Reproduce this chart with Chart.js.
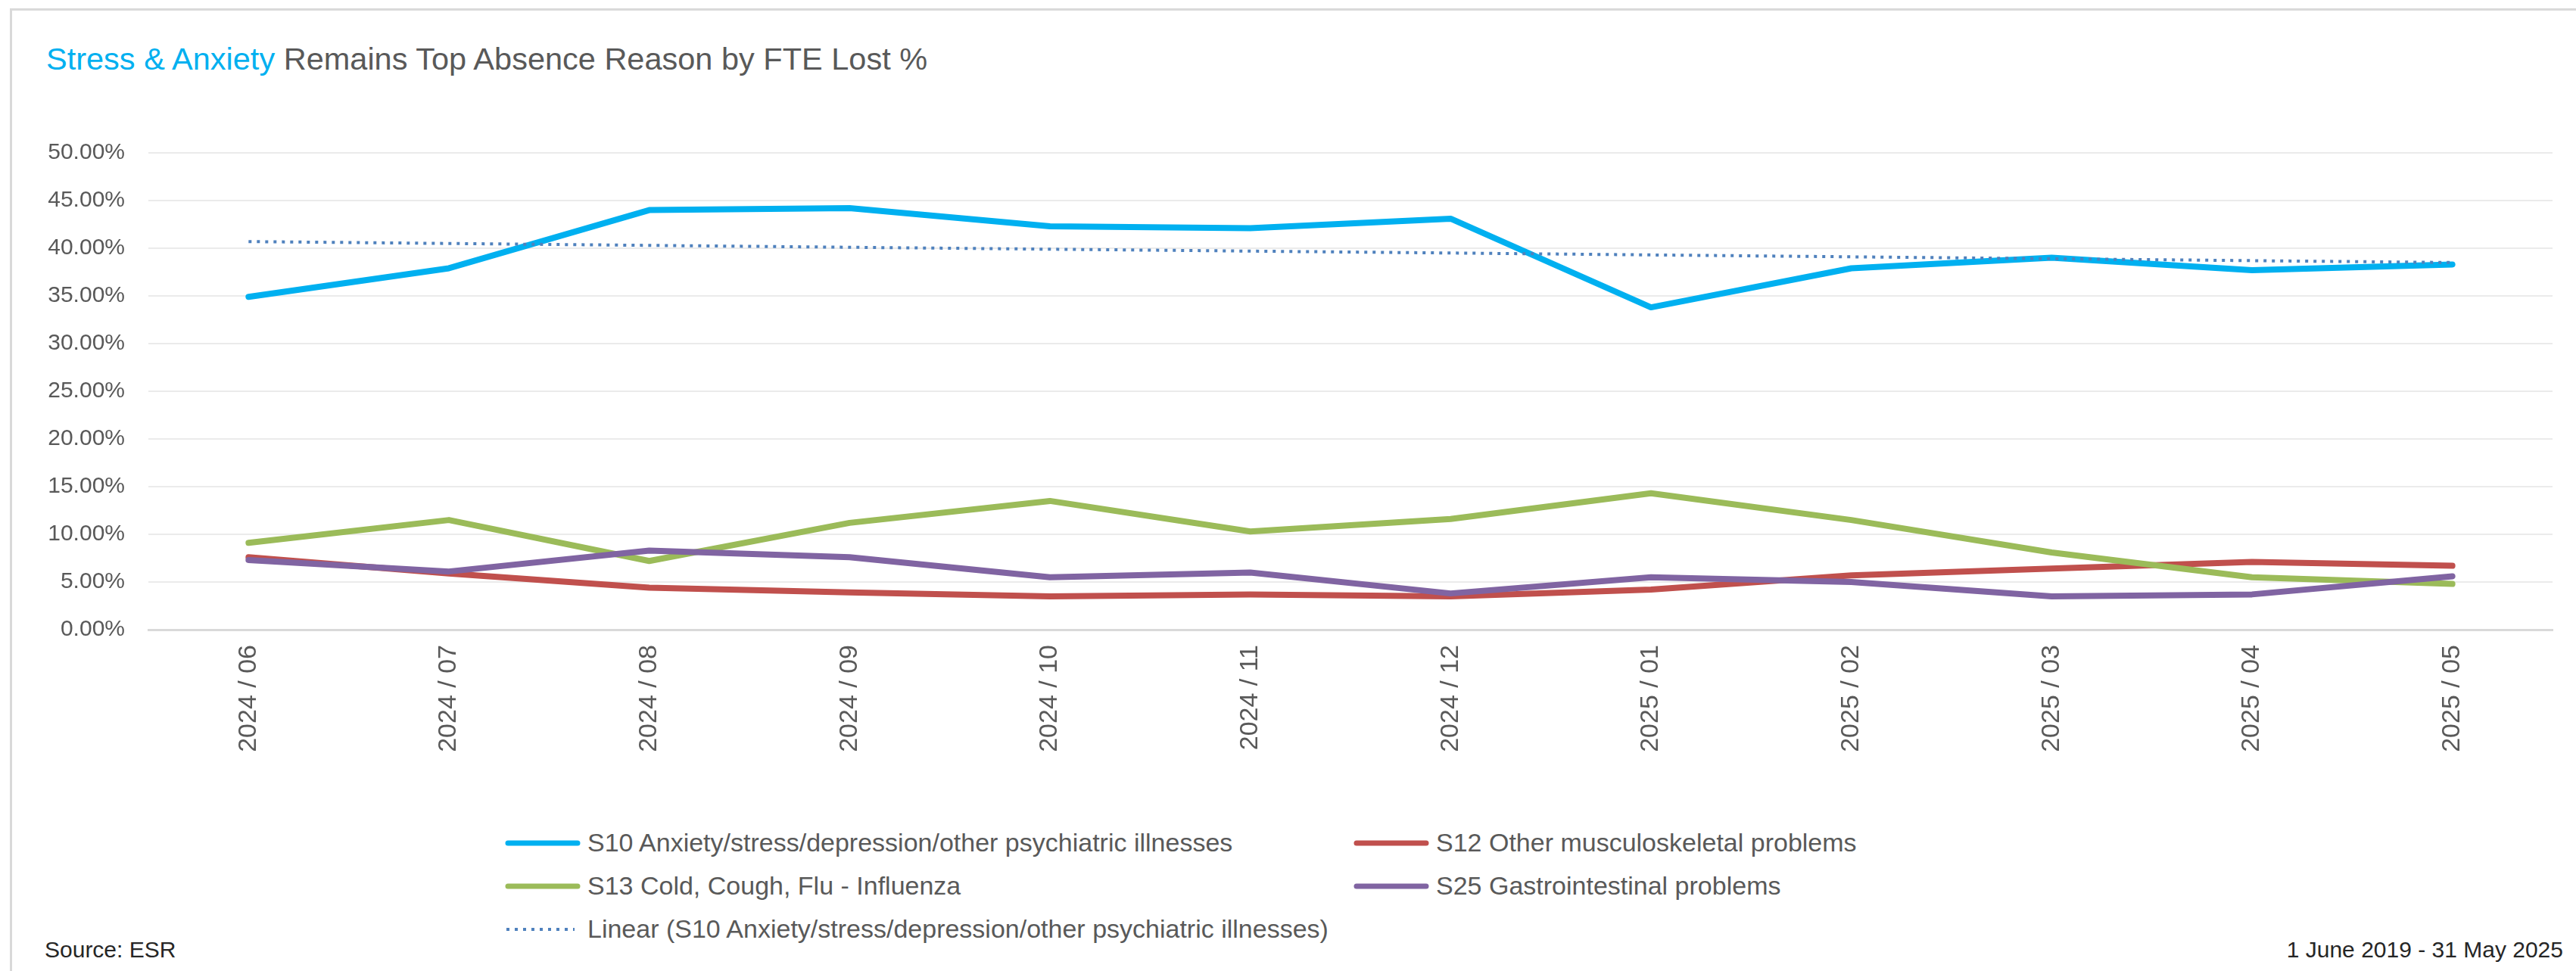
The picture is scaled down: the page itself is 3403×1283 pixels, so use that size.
<!DOCTYPE html>
<html>
<head>
<meta charset="utf-8">
<script src="https://cdn.jsdelivr.net/npm/chart.js@4.4.0/dist/chart.umd.min.js"></script>
<style>
html, body { margin: 0; padding: 0; background: #fff; }
body { width: 3403px; height: 1283px; position: relative; overflow: hidden; font-family: "Liberation Sans", Arial, sans-serif; }
#frame { position: absolute; left: 13px; top: 11px; right: -10px; bottom: -10px; border-left: 3px solid #d9d9d9; border-top: 3px solid #d9d9d9; }
#title { position: absolute; left: 61px; top: 57px; font-size: 41.5px; line-height: 41.5px; color: #595959; white-space: nowrap; }
#title span { color: #00b0f0; }
#chart4 { position: absolute; left: 0; top: 0; }
#legend { position: absolute; left: 667px; top: 1085px; display: grid; grid-template-columns: 1121px auto; }
.item { display: flex; align-items: center; height: 57px; font-size: 34px; color: #595959; white-space: nowrap; }
.item svg { margin-right: 9px; }
.foot { position: absolute; top: 1240px; font-size: 30px; line-height: 30px; color: #262626; }
</style>
</head>
<body>
<div id="frame"></div>
<div id="title"><span>Stress &amp; Anxiety</span> Remains Top Absence Reason by FTE Lost %</div>
<canvas id="chart4" width="3403" height="1010"></canvas>
<div id="legend"></div>
<div class="foot" style="left:59px">Source: ESR</div>
<div class="foot" style="right:17px">1 June 2019 - 31 May 2025</div>
<script>
const months = ['2024 / 06', '2024 / 07', '2024 / 08', '2024 / 09', '2024 / 10', '2024 / 11',
                '2024 / 12', '2025 / 01', '2025 / 02', '2025 / 03', '2025 / 04', '2025 / 05'];
// % of FTE lost
const s10 = [34.9, 37.9, 44.0, 44.2, 42.3, 42.1, 43.1, 33.8, 37.9, 39.0, 37.7, 38.3];
const s12 = [7.6, 5.9, 4.4, 3.9, 3.5, 3.7, 3.5, 4.2, 5.7, 6.4, 7.1, 6.7];
const s13 = [9.1, 11.5, 7.2, 11.2, 13.5, 10.3, 11.6, 14.3, 11.5, 8.1, 5.5, 4.8];
const s25 = [7.3, 6.1, 8.3, 7.6, 5.5, 6.0, 3.8, 5.5, 5.0, 3.5, 3.7, 5.6];
// linear trend of S10, first and last month
const trendStart = 40.7;
const trendEnd = 38.5;

const textGrey = '#595959';

const data4 = {
  labels: months,
  datasets: [
    {
      label: 'S10 Anxiety/stress/depression/other psychiatric illnesses',
      data: s10,
      borderColor: '#00b0f0',
      order: 4
    },
    {
      label: 'S12 Other musculoskeletal problems',
      data: s12,
      borderColor: '#c0504d',
      order: 3
    },
    {
      label: 'S13 Cold, Cough, Flu - Influenza',
      data: s13,
      borderColor: '#9bbb59',
      order: 2
    },
    {
      label: 'S25 Gastrointestinal problems',
      data: s25,
      borderColor: '#8064a2',
      order: 1
    },
    {
      label: 'Linear (S10 Anxiety/stress/depression/other psychiatric illnesses)',
      data: [{x: months[0], y: trendStart}, {x: months[months.length - 1], y: trendEnd}],
      borderColor: '#4f81bd',
      borderWidth: 4,
      borderDash: [4, 7],
      borderCapStyle: 'butt',
      order: 0
    }
  ]
};

const config4 = {
  type: 'line',
  data: data4,
  options: {
    responsive: false,
    animation: false,
    layout: { padding: { left: 0, top: 202, right: 31, bottom: 0 } },
    elements: {
      line: { borderWidth: 8, tension: 0, borderJoinStyle: 'round', borderCapStyle: 'round' },
      point: { radius: 0 }
    },
    scales: {
      x: {
        offset: true,
        grid: { display: false, drawTicks: false, offset: true },
        border: { display: true, color: '#d9d9d9', width: 3 },
        ticks: {
          color: textGrey,
          font: { family: 'Liberation Sans', size: 34 },
          minRotation: 90,
          maxRotation: 90,
          padding: 20
        },
        afterFit: function(scale) { scale.height = 178; }
      },
      y: {
        min: 0,
        max: 50,
        grid: { color: '#ebebeb', lineWidth: 2, drawTicks: false },
        border: { display: false },
        ticks: {
          stepSize: 5,
          color: textGrey,
          font: { family: 'Liberation Sans', size: 30 },
          padding: 31,
          callback: v => v.toFixed(2) + '%'
        },
        afterFit: function(scale) { scale.width = 196; }
      }
    },
    plugins: {
      legend: { display: false },
      title: { display: false },
      tooltip: { enabled: false }
    }
  }
};

const chart4 = new Chart(document.getElementById('chart4'), config4);

// legend laid out in two columns like the original
const legendBox = document.getElementById('legend');
chart4.data.datasets.forEach(ds => {
  const item = document.createElement('div');
  item.className = 'item';
  const dotted = !!ds.borderDash;
  const w = dotted ? 4 : 7;
  item.innerHTML =
    '<svg width="100" height="12"><line x1="' + (dotted ? 2 : 4) + '" y1="6" x2="' + (dotted ? 92 : 96) + '" y2="6" stroke="' + ds.borderColor +
    '" stroke-width="' + w + '" stroke-linecap="' + (dotted ? 'butt' : 'round') + '"' +
    (dotted ? ' stroke-dasharray="4 7"' : '') + '/></svg><span>' + ds.label + '</span>';
  legendBox.appendChild(item);
});
</script>
</body>
</html>
